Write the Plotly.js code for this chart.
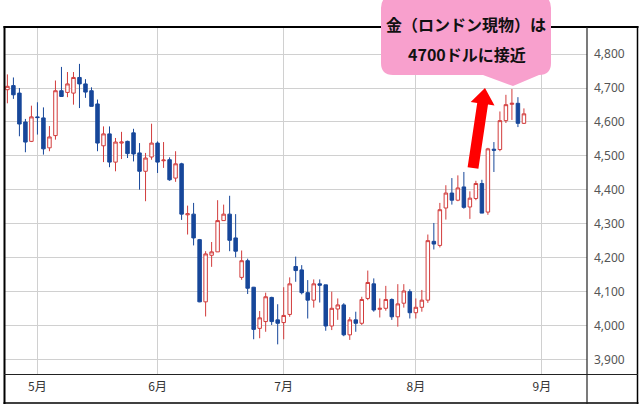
<!DOCTYPE html>
<html>
<head>
<meta charset="utf-8">
<script src="https://cdn.plot.ly/plotly-3.0.1.min.js"></script>
<style>html,body{margin:0;padding:0;background:#fff;}#chart{width:639px;height:404px;}</style>
</head>
<body>
<div id="chart"></div>
<script>
// Daily candles (London spot gold, USD)
const openVals = [4695,4707,4685,4600,4543,4615,4612,4524,4560,4692,4687,4685,4731,4712,4692,4653,4530,4565,4482,4538,4543,4568,4509,4455,4497,4538,4486,4489,4435,4477,4327,4329,4254,4071,4208,4218,4310,4329,4259,4143,4192,4114,3993,4013,4084,4018,4010,4034,4175,4165,4098,4076,4124,4121,4000,4050,4062,3974,4018,4008,4081,4124,4049,4052,4078,4027,4067,4101,4039,4055,4076,4249,4237,4347,4391,4370,4409,4350,4375,4419,4335,4520,4519,4604,4652,4655,4596];
const highVals = [4740,4731,4700,4609,4648,4658,4643,4588,4722,4762,4747,4747,4771,4726,4702,4666,4587,4587,4553,4571,4545,4580,4538,4509,4595,4543,4541,4496,4514,4480,4354,4362,4256,4220,4247,4370,4357,4383,4329,4222,4198,4115,4044,4098,4086,4064,4114,4143,4204,4179,4135,4137,4137,4121,4101,4081,4067,4026,4042,4086,4163,4140,4081,4118,4081,4123,4123,4108,4081,4106,4269,4303,4362,4414,4435,4443,4453,4396,4427,4430,4524,4541,4631,4680,4697,4673,4640];
const lowVals = [4655,4668,4558,4511,4541,4563,4504,4514,4548,4675,4673,4651,4641,4671,4646,4514,4482,4467,4455,4491,4494,4484,4401,4367,4489,4450,4465,4427,4424,4312,4269,4237,4070,4028,4174,4218,4310,4220,4202,4136,4094,3961,3964,3983,4003,3946,3961,4027,4130,4093,4022,4054,4069,3986,3988,4018,3970,3959,3983,4003,4076,4042,4025,4045,4018,3998,4054,4022,4022,4042,4068,4225,4231,4313,4357,4367,4345,4315,4370,4332,4327,4453,4514,4597,4606,4585,4594];
const closeVals = [4705,4680,4594,4541,4615,4613,4521,4556,4692,4675,4712,4731,4712,4688,4646,4538,4565,4482,4541,4541,4507,4506,4455,4494,4538,4482,4488,4430,4477,4329,4330,4259,4071,4212,4218,4310,4329,4252,4220,4192,4111,3990,4024,4086,4013,4008,4031,4124,4163,4098,4076,4124,4120,4000,4052,4062,3974,4018,4008,4078,4128,4047,4052,4078,4027,4065,4103,4039,4055,4076,4251,4241,4342,4391,4370,4406,4349,4376,4419,4332,4521,4517,4604,4651,4655,4596,4624];
const monthLabels = ['5月','6月','7月','8月','9月'];
const monthStartIdx = [5, 25, 46, 68, 89];
const calloutLines = ['金（ロンドン現物）は', '4700ドルに接近'];

const xIdx = openVals.map((_, i) => i);

// pixel -> paper helpers (plot area: x 5..587, y 27..374)
const PL = 5, PR = 587, PT = 27, PB = 374;
const px = x => (x - PL) / (PR - PL);
const py = y => (PB - y) / (PB - PT);
const pt = (x, y) => px(x).toFixed(5) + ',' + py(y).toFixed(5);

const trace = {
  type: 'candlestick',
  x: xIdx, open: openVals, high: highVals, low: lowVals, close: closeVals,
  increasing: {line: {color: '#d23c3c', width: 1}, fillcolor: '#ffffff'},
  decreasing: {line: {color: '#17479a', width: 1}, fillcolor: '#17479a'},
  whiskerwidth: 0,
  hoverinfo: 'skip',
  showlegend: false
};

function lineShape(x0, y0, x1, y1, w, c) {
  return {type: 'line', xref: 'paper', yref: 'paper', layer: 'above',
    x0: px(x0), y0: py(y0), x1: px(x1), y1: py(y1),
    line: {color: c || '#000', width: w}};
}

// callout bubble
const bl = 381, br = 551, bt = -4, bb = 75, r = 12;
const bubblePath = 'M' + pt(bl + r, bt) + ' L' + pt(br - r, bt) + ' Q' + pt(br, bt) + ' ' + pt(br, bt + r) +
  ' L' + pt(br, bb - r) + ' Q' + pt(br, bb) + ' ' + pt(br - r, bb) +
  ' L' + pt(539, bb) + ' L' + pt(513, 86) + ' L' + pt(483, bb) +
  ' L' + pt(bl + r, bb) + ' Q' + pt(bl, bb) + ' ' + pt(bl, bb - r) +
  ' L' + pt(bl, bt + r) + ' Q' + pt(bl, bt) + ' ' + pt(bl + r, bt) + ' Z';

const arrowPath = 'M' + pt(467.6, 167.2) + ' L' + pt(477.2, 103.0) + ' L' + pt(470.7, 102.0) +
  ' L' + pt(485, 88) + ' L' + pt(494.5, 105.6) + ' L' + pt(488.0, 104.6) + ' L' + pt(478.4, 168.8) + ' Z';

const shapes = [
  lineShape(3.5, 27, 638.5, 27, 2),
  lineShape(4.5, 26, 4.5, 404, 2),
  lineShape(637.5, 26, 637.5, 404, 1.5),
  lineShape(3.5, 403, 638.5, 403, 1.5),
  lineShape(587, 27, 587, 404, 1.2, '#222'),
  lineShape(4, 374.5, 638, 374.5, 1.2, '#222'),
  {type: 'path', xref: 'paper', yref: 'paper', layer: 'above', path: bubblePath,
    fillcolor: '#f8a0cd', line: {width: 0}},
  {type: 'path', xref: 'paper', yref: 'paper', layer: 'above', path: arrowPath,
    fillcolor: '#ff0000', line: {width: 0}}
];

const annotations = [
  {xref: 'paper', yref: 'paper', x: px(466), y: py(24), text: '<b>' + calloutLines[0] + '</b>',
    showarrow: false, xanchor: 'center', yanchor: 'middle',
    font: {family: 'Noto Sans CJK JP', size: 16, color: '#111'}},
  {xref: 'paper', yref: 'paper', x: px(467), y: py(54), text: '<b>' + calloutLines[1] + '</b>',
    showarrow: false, xanchor: 'center', yanchor: 'middle',
    font: {family: 'Noto Sans CJK JP', size: 16, color: '#111'}}
];

const layout = {
  width: 639, height: 404,
  margin: {l: PL, r: 639 - PR, t: PT, b: 404 - PB, pad: 0},
  paper_bgcolor: '#ffffff', plot_bgcolor: '#ffffff',
  showlegend: false,
  boxgap: 0.17,
  xaxis: {
    type: 'linear', range: [-0.4, 96.5],
    tickvals: monthStartIdx, ticktext: monthLabels,
    showgrid: true, gridcolor: '#d0d0d0', gridwidth: 1,
    zeroline: false, showline: false, ticks: '',
    ticklabelstandoff: 4,
    tickfont: {family: 'Noto Sans CJK JP', size: 12, color: '#333'},
    rangeslider: {visible: false}, fixedrange: true
  },
  yaxis: {
    side: 'right', range: [3858.8, 4879.4], dtick: 100, tick0: 3900,
    tickformat: ',d',
    showgrid: true, gridcolor: '#d0d0d0', gridwidth: 1,
    zeroline: false, showline: false, ticks: '',
    ticklabelstandoff: 6,
    tickfont: {family: 'Noto Sans, DejaVu Sans', size: 12, color: '#555'},
    fixedrange: true
  },
  shapes: shapes,
  annotations: annotations
};

Plotly.newPlot('chart', [trace], layout, {staticPlot: true, displayModeBar: false});
</script>
</body>
</html>
